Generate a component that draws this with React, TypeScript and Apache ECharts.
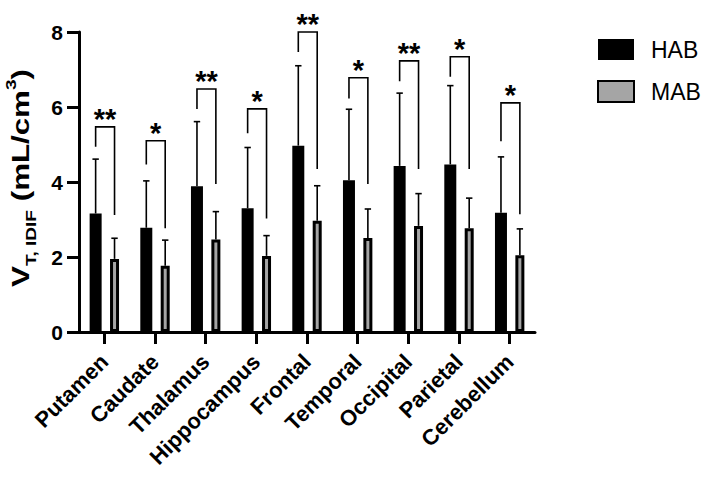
import React, { useEffect, useRef } from "react";
import * as echarts from "echarts";

const categories = ["Putamen", "Caudate", "Thalamus", "Hippocampus", "Frontal", "Temporal", "Occipital", "Parietal", "Cerebellum"];
const habMean = [3.16, 2.78, 3.89, 3.30, 4.97, 4.05, 4.43, 4.47, 3.18];
const habSD = [1.45, 1.25, 1.72, 1.62, 2.13, 1.89, 1.94, 2.10, 1.49];
const mabMean = [1.95, 1.77, 2.47, 2.03, 2.97, 2.51, 2.83, 2.77, 2.05];
const mabSD = [0.55, 0.68, 0.74, 0.54, 0.93, 0.77, 0.86, 0.80, 0.70];
const bracketTop = [5.47, 5.10, 6.48, 5.95, 8.0, 6.78, 7.23, 7.34, 6.11];
const bracketLeftEnd = [4.94, 4.47, 5.95, 5.30, 7.47, 6.23, 6.69, 6.81, 5.09];
const bracketRightEnd = [3.12, 2.77, 3.95, 3.03, 4.35, 3.95, 4.35, 4.35, 3.14];
const significance = ["**", "*", "**", "*", "**", "*", "**", "*", "*"];
const yMin = 0;
const yMax = 8;
const yStep = 2;

const FONT = "'Liberation Sans', Arial, Helvetica, sans-serif";
const BAR_W_HAB = 12;
const BAR_W_MAB = 9;
const BAR_GAP = 0.7;
const TOTAL_W = BAR_W_HAB * (1 + BAR_GAP) + BAR_W_MAB;
const HAB_OFF = -TOTAL_W / 2 + BAR_W_HAB / 2;
const MAB_OFF = -TOTAL_W / 2 + BAR_W_HAB * (1 + BAR_GAP) + BAR_W_MAB / 2;

export default function App() {
  const ref = useRef<HTMLDivElement>(null);

  useEffect(() => {
    if (!ref.current) return;
    const chart = echarts.init(ref.current, null, { renderer: "svg" });

    const errRender = (off: number) => (params: any, api: any) => {
      const i = api.value(0);
      const m = api.value(1);
      const sd = api.value(2);
      const p0 = api.coord([i, m]);
      const p1 = api.coord([i, m + sd]);
      const x = p0[0] + off;
      return {
        type: "group",
        children: [
          { type: "line", shape: { x1: x, y1: p0[1], x2: x, y2: p1[1] }, style: { stroke: "#000", lineWidth: 1.6 } },
          { type: "line", shape: { x1: x - 3.2, y1: p1[1], x2: x + 3.2, y2: p1[1] }, style: { stroke: "#000", lineWidth: 1.6 } },
        ],
      };
    };

    const bracketRender = (params: any, api: any) => {
      const i = api.value(0);
      const pTop = api.coord([i, api.value(1)]);
      const pL = api.coord([i, api.value(2)]);
      const pR = api.coord([i, api.value(3)]);
      const xL = pTop[0] + HAB_OFF;
      const xR = pTop[0] + MAB_OFF;
      return {
        type: "group",
        children: [
          {
            type: "polyline",
            shape: { points: [[xL, pL[1]], [xL, pTop[1]], [xR, pTop[1]], [xR, pR[1]]] },
            style: { stroke: "#000", lineWidth: 1.6, fill: "none" },
          },
          {
            type: "text",
            style: {
              text: significance[i],
              x: (xL + xR) / 2,
              y: pTop[1] - 8,
              align: "center",
              verticalAlign: "middle",
              fontSize: 29,
              fontWeight: "bold",
              fontFamily: FONT,
              fill: "#000",
            },
          },
        ],
      };
    };

    chart.setOption({
      animation: false,
      backgroundColor: "#fff",
      textStyle: { fontFamily: FONT },
      grid: { left: 79, top: 32, width: 456, height: 300, containLabel: false },
      legend: {
        orient: "vertical",
        left: 597,
        top: 38,
        icon: "rect",
        itemWidth: 36,
        itemHeight: 21,
        itemGap: 19,
        padding: 0,
        data: ["HAB", "MAB"],
        textStyle: { fontSize: 23, color: "#000", fontFamily: FONT, padding: [0, 0, 0, 12] },
      },
      xAxis: {
        type: "category",
        data: categories,
        axisLine: { show: true, lineStyle: { color: "#000", width: 3 } },
        axisTick: { show: true, alignWithLabel: true, length: 12, lineStyle: { color: "#000", width: 3 } },
        axisLabel: {
          rotate: 45,
          interval: 0,
          margin: 26,
          fontSize: 22,
          fontWeight: "bold",
          color: "#000",
          fontFamily: FONT,
        },
        splitLine: { show: false },
      },
      yAxis: {
        type: "value",
        min: yMin,
        max: yMax,
        interval: yStep,
        axisLine: { show: true, lineStyle: { color: "#000", width: 3 } },
        axisTick: { show: true, length: 12, lineStyle: { color: "#000", width: 3 } },
        axisLabel: { fontSize: 21, fontWeight: "bold", color: "#000", margin: 16, fontFamily: FONT },
        splitLine: { show: false },
      },
      graphic: [
        {
          type: "text",
          x: 21,
          y: 178,
          rotation: Math.PI / 2,
          scaleX: 1.36,
          z: 100,
          style: {
            text: "{v|V}{s|T, IDIF}{m| (mL/cm}{p|3}{m|)}",
            align: "center",
            verticalAlign: "middle",
            fill: "#000",
            rich: {
              v: { fontSize: 23, fontWeight: "bold", fontFamily: FONT, lineHeight: 34, fill: "#000" },
              m: { fontSize: 23, fontWeight: "bold", fontFamily: FONT, lineHeight: 34, fill: "#000" },
              s: { fontSize: 14, fontWeight: "bold", fontFamily: FONT, lineHeight: 14, verticalAlign: "bottom", fill: "#000" },
              p: { fontSize: 14, fontWeight: "bold", fontFamily: FONT, lineHeight: 18, verticalAlign: "top", fill: "#000" },
            },
          },
        },
      ],
      series: [
        {
          name: "HAB",
          type: "bar",
          data: habMean,
          barWidth: BAR_W_HAB,
          barGap: `${BAR_GAP * 100}%`,
          itemStyle: { color: "#000" },
        },
        {
          name: "MAB",
          type: "bar",
          data: mabMean,
          barWidth: BAR_W_MAB,
          itemStyle: { color: "#a5a5a5", borderColor: "#000", borderWidth: 3 },
        },
        {
          type: "custom",
          renderItem: errRender(HAB_OFF),
          encode: { x: 0, y: 1 },
          data: categories.map((c, i) => [i, habMean[i], habSD[i]]),
          z: 5,
        },
        {
          type: "custom",
          renderItem: errRender(MAB_OFF),
          encode: { x: 0, y: 1 },
          data: categories.map((c, i) => [i, mabMean[i], mabSD[i]]),
          z: 5,
        },
        {
          type: "custom",
          renderItem: bracketRender,
          encode: { x: 0, y: 1 },
          clip: false,
          data: categories.map((c, i) => [i, bracketTop[i], bracketLeftEnd[i], bracketRightEnd[i]]),
          z: 5,
        },
      ],
    });

    return () => chart.dispose();
  }, []);

  return <div ref={ref} style={{ position: "fixed", left: 0, top: 0, width: 707, height: 478 }} />;
}
